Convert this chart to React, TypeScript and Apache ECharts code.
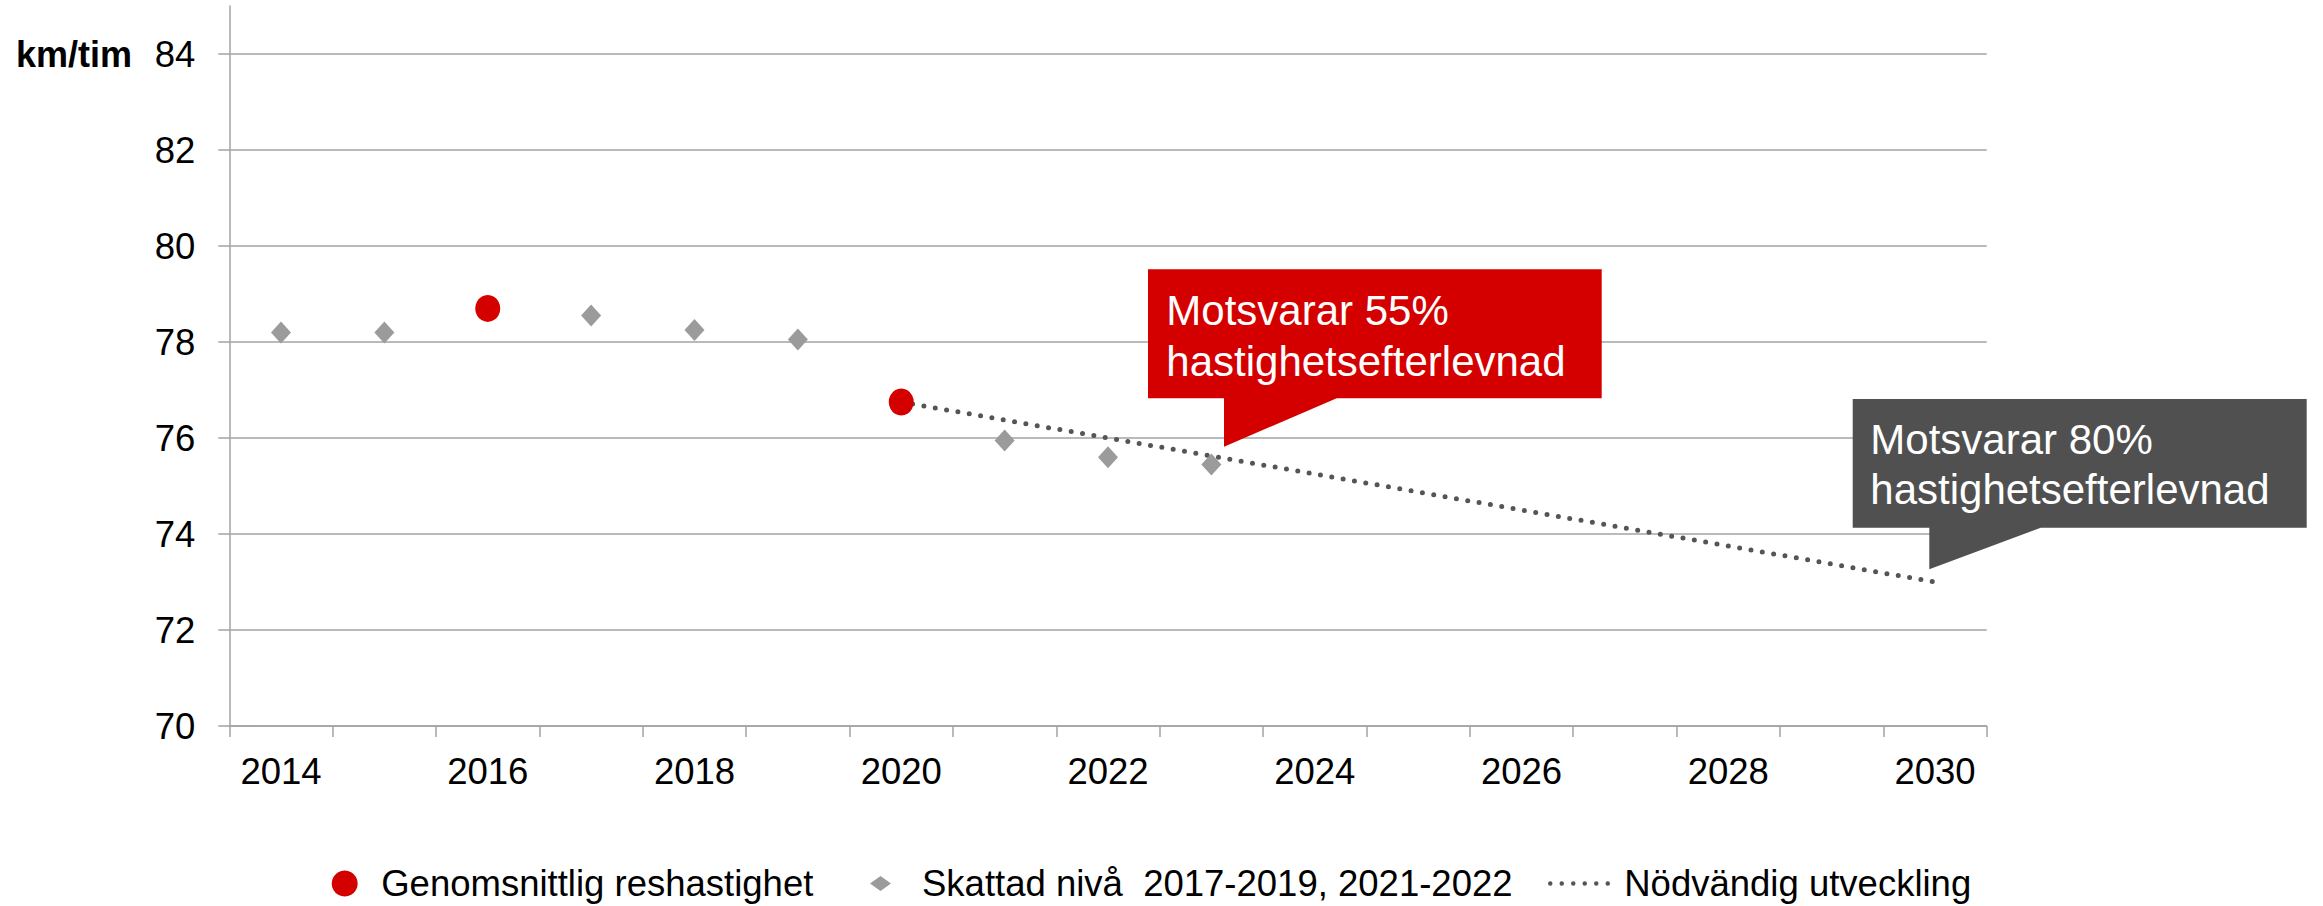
import React, { useEffect, useRef } from "react";
import * as echarts from "echarts";

const FONT = "'Liberation Sans', Arial, Helvetica, sans-serif";

const years = [
  "2014", "2015", "2016", "2017", "2018", "2019", "2020", "2021", "2022",
  "2023", "2024", "2025", "2026", "2027", "2028", "2029", "2030",
];

const measuredSpeed = [
  null, null, 78.7, null, null, null, 76.75, null, null,
  null, null, null, null, null, null, null, null,
];

const estimatedLevel = [
  78.2, 78.2, null, 78.55, 78.25, 78.05, null, 75.95, 75.6,
  75.45, null, null, null, null, null, null, null,
];

const requiredPath = [
  null, null, null, null, null, null, 76.75, null, null,
  null, null, null, null, null, null, null, 73.0,
];

const yTickValues = [70, 72, 74, 76, 78, 80, 82, 84];

const seriesNames = [
  "Genomsnittlig reshastighet",
  "Skattad nivå  2017-2019, 2021-2022",
  "Nödvändig utveckling",
];

const unitLabel = "km/tim";
const callout55 = "Motsvarar 55%\nhastighetsefterlevnad";
const callout80 = "Motsvarar 80%\nhastighetsefterlevnad";

const RED = "#D40000";
const GRAY_MARK = "#9B9B9B";
const DOT_LINE = "#555555";
const CALLOUT_GRAY = "#505050";
const GRID = "#A3A3A3";

export default function App() {
  const ref = useRef<HTMLDivElement>(null);

  useEffect(() => {
    if (!ref.current) return;
    const chart = echarts.init(ref.current, null, { renderer: "svg" });
    const legendText = { fontSize: 36.5, color: "#000", fontFamily: FONT };
    const legendTop = 865;
    const option: any = {
      animation: false,
      backgroundColor: "#ffffff",
      textStyle: { fontFamily: FONT },
      grid: { left: 229.3, right: 336.3, top: 6, bottom: 180, containLabel: false },
      xAxis: {
        type: "category",
        data: years,
        boundaryGap: true,
        axisLine: { show: true, lineStyle: { color: GRID, width: 1.5 } },
        axisTick: { show: true, interval: 0, length: 11, lineStyle: { color: GRID, width: 1.5 } },
        axisLabel: { interval: 1, fontSize: 36.5, color: "#000", fontFamily: FONT, margin: 27 },
        splitLine: { show: false },
      },
      yAxis: {
        type: "value",
        min: 70,
        max: 85,
        interval: 2,
        axisLine: { show: true, lineStyle: { color: GRID, width: 1.5 } },
        axisTick: {
          show: true,
          length: 11,
          customValues: yTickValues,
          lineStyle: { color: GRID, width: 1.5 },
        },
        axisLabel: {
          fontSize: 36.5,
          color: "#000",
          fontFamily: FONT,
          margin: 34,
          customValues: yTickValues,
        },
        splitLine: { show: true, lineStyle: { color: GRID, width: 1.5 } },
      },
      legend: [
        {
          data: [{ name: seriesNames[0] }],
          left: 331.7,
          top: legendTop,
          padding: 0,
          itemWidth: 27,
          itemHeight: 26,
          selectedMode: false,
          textStyle: { ...legendText, padding: [0, 0, 0, 18] },
        },
        {
          data: [{ name: seriesNames[1] }],
          left: 870,
          top: legendTop,
          padding: 0,
          itemWidth: 21,
          itemHeight: 15,
          symbolKeepAspect: false,
          selectedMode: false,
          textStyle: { ...legendText, padding: [0, 0, 0, 26] },
        },
        {
          data: [{ name: seriesNames[2] }],
          left: 1548,
          top: legendTop,
          padding: 0,
          itemWidth: 58,
          itemHeight: 26,
          selectedMode: false,
          itemStyle: { color: "rgba(0,0,0,0)", opacity: 0, borderWidth: 0 },
          lineStyle: { color: DOT_LINE, width: 4.5, type: [0, 11.5], cap: "round" },
          textStyle: { ...legendText, padding: [0, 0, 0, 11] },
        },
      ],
      series: [
        {
          name: seriesNames[2],
          type: "line",
          data: requiredPath,
          connectNulls: true,
          symbol: "none",
          showSymbol: false,
          z: 1,
          lineStyle: { color: DOT_LINE, width: 5, type: [0, 11.5], cap: "round" },
          itemStyle: { color: DOT_LINE },
        },
        {
          name: seriesNames[1],
          type: "scatter",
          data: estimatedLevel,
          symbol: "diamond",
          symbolSize: [20, 22],
          z: 3,
          itemStyle: { color: GRAY_MARK, opacity: 1 },
        },
        {
          name: seriesNames[0],
          type: "scatter",
          data: measuredSpeed,
          symbol: "circle",
          symbolSize: [25, 27],
          z: 4,
          itemStyle: { color: RED, opacity: 1 },
        },
      ],
      graphic: [
        {
          type: "text",
          x: 16,
          y: 54,
          style: {
            text: unitLabel,
            fill: "#000",
            fontSize: 36,
            fontWeight: "bold",
            fontFamily: FONT,
            verticalAlign: "middle",
            align: "left",
          },
        },
        {
          type: "polygon",
          z: 10,
          shape: {
            points: [
              [1148, 269.3], [1601.7, 269.3], [1601.7, 398.3], [1336.7, 398.3],
              [1224, 446.7], [1224, 398.3], [1148, 398.3],
            ],
          },
          style: { fill: RED },
        },
        {
          type: "text",
          z: 11,
          x: 1166.3,
          y: 336,
          style: {
            text: callout55,
            fill: "#fff",
            fontSize: 42,
            lineHeight: 51,
            fontFamily: FONT,
            verticalAlign: "middle",
            align: "left",
          },
        },
        {
          type: "polygon",
          z: 10,
          shape: {
            points: [
              [1852.7, 399], [2306.7, 399], [2306.7, 527.7], [2040.7, 527.7],
              [1929.3, 569.3], [1929.3, 527.7], [1852.7, 527.7],
            ],
          },
          style: { fill: CALLOUT_GRAY },
        },
        {
          type: "text",
          z: 11,
          x: 1870.3,
          y: 464.5,
          style: {
            text: callout80,
            fill: "#fff",
            fontSize: 42,
            lineHeight: 50.5,
            fontFamily: FONT,
            verticalAlign: "middle",
            align: "left",
          },
        },
      ],
    };
    chart.setOption(option);
    return () => chart.dispose();
  }, []);

  return (
    <div
      ref={ref}
      style={{ position: "fixed", left: 0, top: 0, width: 2323, height: 906, background: "#fff" }}
    />
  );
}
